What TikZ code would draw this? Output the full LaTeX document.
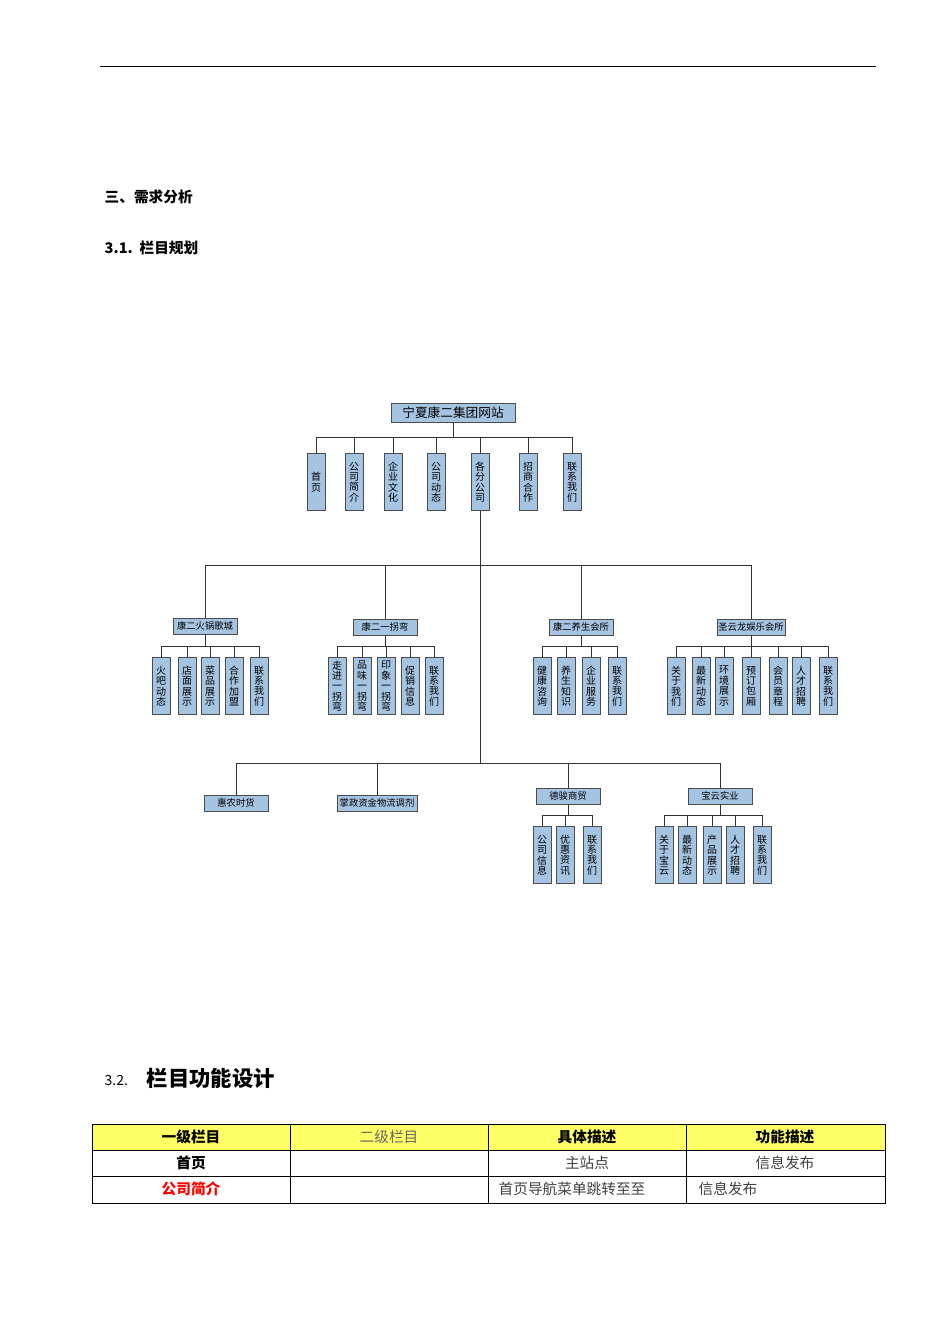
\documentclass[tikz,border=0pt]{standalone}
\usepackage{fontspec}
\setmainfont{Noto Sans CJK SC}
\definecolor{hdryellow}{RGB}{255,255,102}
\definecolor{boxblue}{RGB}{165,196,225}
\begin{document}
\begin{tikzpicture}[x=0.75pt,y=-0.75pt,
  box/.style={draw=black!70,fill=boxblue,line width=0.6pt,inner sep=1pt,font=\fontsize{7}{7.5}\selectfont},
  hbox/.style={box,minimum height=12pt},
  leaf/.style={box,minimum width=13.5pt,minimum height=43pt,align=center,font=\fontsize{7.5}{7.8}\selectfont},
  ln/.style={draw=black!80,line width=0.6pt}]
\useasboundingbox (0,0) rectangle (950,1344);
\draw[line width=0.6pt] (100,66) -- (876,66);
\node[anchor=west,font=\fontsize{11}{12}\selectfont\bfseries] (h1) at (100,197) {三、需求分析};
\node[anchor=west,font=\fontsize{11}{12}\selectfont\bfseries] (h2) at (100,248) {3.1.\ \ 栏目规划};
\node[anchor=west,font=\fontsize{10.5}{12}\selectfont] (h3n) at (100,1080) {3.2.};
\node[anchor=west,font=\fontsize{16}{18}\selectfont\bfseries] (h3) at (142,1078) {栏目功能设计};
% root
\node[hbox,minimum width=93pt,minimum height=14pt,font=\fontsize{9.5}{10}\selectfont] (root) at (453,413) {宁夏康二集团网站};
\draw[ln] (root.south) -- (453,437);
\draw[ln] (316,437) -- (572,437);
\foreach \x/\t/\n in {316/首\\页/a1,354/公\\司\\简\\介/a2,393/企\\业\\文\\化/a3,436/公\\司\\动\\态/a4,480/各\\分\\公\\司/a5,528/招\\商\\合\\作/a6,572/联\\系\\我\\们/a7}{
  \node[leaf,anchor=north] (\n) at (\x,453) {\t};
  \draw[ln] (\x,437) -- (\n.north);
}
\coordinate (trunk) at (480,763);
\draw[ln] (a5.south) -- (trunk);
% second level
\draw[ln] (205,565) -- (751,565);
\node[hbox,minimum width=48pt] (b1) at (205,626) {康二火锅歌城};
\node[hbox,minimum width=48pt] (b2) at (385,627) {康二一拐弯};
\node[hbox,minimum width=48pt] (b3) at (581,627) {康二养生会所};
\node[hbox,minimum width=48pt] (b4) at (751,627) {圣云龙娱乐会所};
\foreach \n/\x in {b1/205,b2/385,b3/581,b4/751}{
  \draw[ln] (\x,565) -- (\n.north);
  \draw[ln] (\n.south) -- (\x,646);
}
\newcommand\leafrow[4]{%
  \draw[ln] (#1,646) -- (#2,646);
  \foreach \x/\t [count=\i] in {#3}{
    \node[leaf,anchor=north] (#4\i) at (\x,657) {\t};
    \draw[ln] (\x,646) -- (#4\i.north);
  }}
\leafrow{161}{259}{161/火\\吧\\动\\态,187/店\\面\\展\\示,210/菜\\品\\展\\示,234/合\\作\\加\\盟,259/联\\系\\我\\们}{c}
\leafrow{337}{434}{337/走\\进\\一\\拐\\弯,362/品\\味\\一\\拐\\弯,386/印\\象\\一\\拐\\弯,410/促\\销\\信\\息,434/联\\系\\我\\们}{d}
\leafrow{542}{617}{542/健\\康\\咨\\询,566/养\\生\\知\\识,591/企\\业\\服\\务,617/联\\系\\我\\们}{e}
\leafrow{676}{828}{676/关\\于\\我\\们,701/最\\新\\动\\态,724/环\\境\\展\\示,751/预\\订\\包\\厢,778/会\\员\\章\\程,801/人\\才\\招\\聘,828/联\\系\\我\\们}{f}
% third level
\draw[ln] (236,763) -- (720,763);
\node[hbox,minimum width=48pt] (g1) at (236,803) {惠农时货};
\node[hbox,minimum width=60pt] (g2) at (377,803) {掌政资金物流调剂};
\node[hbox,minimum width=48pt] (g3) at (568,796) {德骏商贸};
\node[hbox,minimum width=48pt] (g4) at (720,796) {宝云实业};
\foreach \n/\x in {g1/236,g2/377,g3/568,g4/720}{
  \draw[ln] (\x,763) -- (\n.north);
}
\draw[ln] (g3.south) -- (568,815);
\draw[ln] (g4.south) -- (720,815);
\draw[ln] (542,815) -- (592,815);
\draw[ln] (664,815) -- (762,815);
\foreach \x/\t [count=\i] in {542/公\\司\\信\\息,565/优\\惠\\资\\讯,592/联\\系\\我\\们}{
  \node[leaf,anchor=north] (k\i) at (\x,826) {\t};
  \draw[ln] (\x,815) -- (k\i.north);
}
\foreach \x/\t [count=\i] in {664/关\\于\\宝\\云,687/最\\新\\动\\态,712/产\\品\\展\\示,735/人\\才\\招\\聘,762/联\\系\\我\\们}{
  \node[leaf,anchor=north] (m\i) at (\x,826) {\t};
  \draw[ln] (\x,815) -- (m\i.north);
}
% table
\fill[hdryellow] (92,1124) rectangle (885,1150);
\draw[line width=0.5pt] (92,1124) rectangle (885,1203);
\draw[line width=0.5pt] (92,1150) -- (885,1150) (92,1176) -- (885,1176);
\foreach \x in {290,488,686} \draw[line width=0.5pt] (\x,1124) -- (\x,1203);
\tikzset{tc/.style={font=\fontsize{11}{12}\selectfont}}
\node[tc,font=\fontsize{11}{12}\selectfont\bfseries] (t11) at (191,1137) {一级栏目};
\node[tc,text=black!60] (t12) at (389,1137) {二级栏目};
\node[tc,font=\fontsize{11}{12}\selectfont\bfseries] (t13) at (587,1137) {具体描述};
\node[tc,font=\fontsize{11}{12}\selectfont\bfseries] (t14) at (785,1137) {功能描述};
\node[tc,font=\fontsize{11}{12}\selectfont\bfseries] (t21) at (191,1163) {首页};
\node[tc,text=black!75] (t23) at (587,1163) {主站点};
\node[tc,text=black!75] (t24) at (785,1163) {信息发布};
\node[tc,font=\fontsize{11}{12}\selectfont\bfseries,text=red] (t31) at (191,1189) {公司简介};
\node[tc,anchor=west,text=black!75] (t33) at (494,1189) {首页导航菜单跳转至至};
\node[tc,anchor=west,text=black!75] (t34) at (694,1189) {信息发布};
\end{tikzpicture}
\end{document}
